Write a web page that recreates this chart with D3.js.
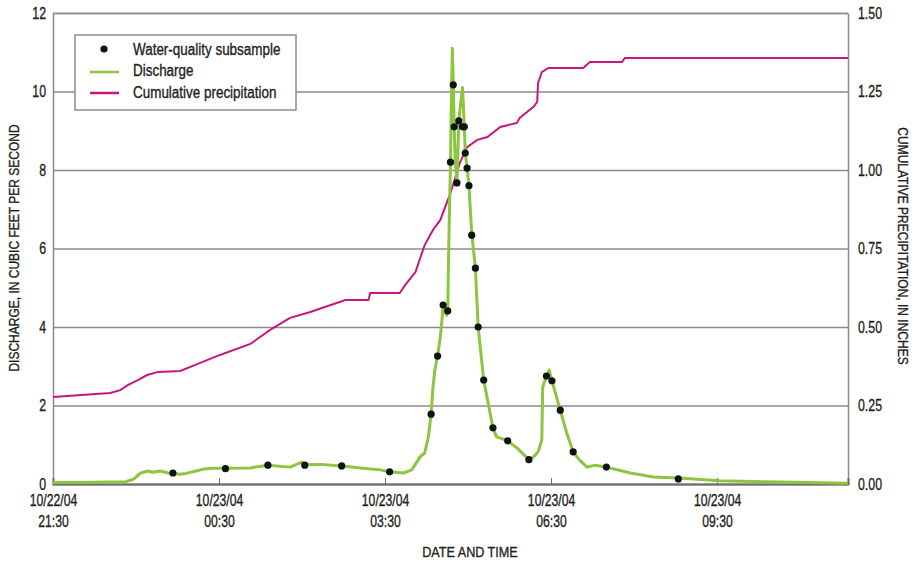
<!DOCTYPE html>
<html>
<head>
<meta charset="utf-8">
<script src="https://cdn.jsdelivr.net/npm/d3@7"></script>
<style>
  html, body { margin: 0; padding: 0; background: #fff; }
  svg { display: block; }
  text { font-family: "Liberation Sans", Arial, sans-serif; fill: #231f20; stroke: #231f20; stroke-width: 0.35px; }
</style>
</head>
<body>
<svg id="chart" width="917" height="565"></svg>
<script>
// ---------------- DATA ----------------
const xTickTimes = ["10/22/04 21:30", "10/23/04 00:30", "10/23/04 03:30", "10/23/04 06:30", "10/23/04 09:30"];
const xTickLabelsDate = ["10/22/04", "10/23/04", "10/23/04", "10/23/04", "10/23/04"];
const xTickLabelsTime = ["21:30", "00:30", "03:30", "06:30", "09:30"];
const timeDomain = ["10/22/04 21:30", "10/23/04 11:52"];
const dischargeTicks = [0, 2, 4, 6, 8, 10, 12];
const precipTicks = [0, 0.25, 0.5, 0.75, 1.0, 1.25, 1.5];

const dischargeTime = [
  "10/22/04 21:30","10/22/04 22:00","10/22/04 22:30","10/22/04 22:49","10/22/04 22:57","10/22/04 23:05",
  "10/22/04 23:13","10/22/04 23:18","10/22/04 23:26","10/22/04 23:35","10/22/04 23:40","10/22/04 23:48",
  "10/22/04 23:54","10/23/04 00:05","10/23/04 00:13","10/23/04 00:24","10/23/04 00:37","10/23/04 01:04",
  "10/23/04 01:23","10/23/04 01:47","10/23/04 02:00","10/23/04 02:03","10/23/04 02:20","10/23/04 02:43",
  "10/23/04 03:06","10/23/04 03:25","10/23/04 03:35","10/23/04 03:50","10/23/04 03:59","10/23/04 04:08",
  "10/23/04 04:13","10/23/04 04:17","10/23/04 04:20","10/23/04 04:22","10/23/04 04:24","10/23/04 04:27",
  "10/23/04 04:30","10/23/04 04:32","10/23/04 04:33","10/23/04 04:37","10/23/04 04:38","10/23/04 04:39",
  "10/23/04 04:41","10/23/04 04:42","10/23/04 04:43","10/23/04 04:44","10/23/04 04:45","10/23/04 04:46",
  "10/23/04 04:48","10/23/04 04:50","10/23/04 04:52","10/23/04 04:54","10/23/04 04:56","10/23/04 04:57",
  "10/23/04 04:59","10/23/04 05:01","10/23/04 05:04","10/23/04 05:08","10/23/04 05:11","10/23/04 05:17",
  "10/23/04 05:27","10/23/04 05:31","10/23/04 05:35","10/23/04 05:43","10/23/04 05:53","10/23/04 06:06",
  "10/23/04 06:11","10/23/04 06:16","10/23/04 06:20","10/23/04 06:21","10/23/04 06:25","10/23/04 06:28",
  "10/23/04 06:31","10/23/04 06:40","10/23/04 06:47","10/23/04 06:54","10/23/04 07:01","10/23/04 07:09",
  "10/23/04 07:18","10/23/04 07:30","10/23/04 07:56","10/23/04 08:21","10/23/04 08:48","10/23/04 09:33",
  "10/23/04 10:38","10/23/04 11:52"
];
const dischargeValue = [
  0.04, 0.04, 0.05, 0.06, 0.12, 0.28,
  0.33, 0.30, 0.33, 0.28, 0.27, 0.25,
  0.27, 0.33, 0.38, 0.40, 0.40, 0.41,
  0.48, 0.43, 0.56, 0.49, 0.50, 0.46,
  0.40, 0.36, 0.31, 0.28, 0.36, 0.69,
  0.79, 1.20, 1.78, 2.47, 2.90, 3.26,
  3.75, 4.25, 4.56, 4.30, 4.41, 5.90,
  8.20, 9.80, 11.10, 10.17, 9.10, 8.30,
  7.67, 9.25, 9.70, 10.10, 9.10, 8.43,
  8.05, 7.60, 6.40, 5.50, 4.00, 2.65,
  1.43, 1.20, 1.17, 1.10, 0.92, 0.62,
  0.69, 0.82, 1.12, 2.47, 2.75, 2.90,
  2.63, 1.88, 1.30, 0.82, 0.61, 0.43,
  0.48, 0.43, 0.28, 0.18, 0.15, 0.08,
  0.05, 0.02
];

const sampleTime = [
  "10/22/04 23:40","10/23/04 00:37","10/23/04 01:23","10/23/04 02:03","10/23/04 02:43","10/23/04 03:35",
  "10/23/04 04:20","10/23/04 04:27","10/23/04 04:33","10/23/04 04:38","10/23/04 04:41","10/23/04 04:44",
  "10/23/04 04:45","10/23/04 04:48","10/23/04 04:50","10/23/04 04:54","10/23/04 04:56","10/23/04 04:57",
  "10/23/04 04:59","10/23/04 05:01","10/23/04 05:04","10/23/04 05:08","10/23/04 05:11","10/23/04 05:17",
  "10/23/04 05:27","10/23/04 05:43","10/23/04 06:06","10/23/04 06:25","10/23/04 06:31","10/23/04 06:40",
  "10/23/04 06:54","10/23/04 07:30","10/23/04 08:48"
];
const sampleValue = [
  0.28, 0.39, 0.48, 0.48, 0.46, 0.31,
  1.78, 3.26, 4.56, 4.41, 8.20, 10.17,
  9.10, 7.67, 9.25, 9.10, 9.10, 8.43,
  8.05, 7.60, 6.34, 5.50, 4.00, 2.65,
  1.43, 1.10, 0.62, 2.75, 2.63, 1.88,
  0.82, 0.43, 0.13
];

const precipTime = [
  "10/22/04 21:30","10/22/04 22:32","10/22/04 22:43","10/22/04 22:51","10/22/04 23:02","10/22/04 23:12",
  "10/22/04 23:24","10/22/04 23:48","10/23/04 00:09","10/23/04 00:31","10/23/04 01:04","10/23/04 01:25",
  "10/23/04 01:47","10/23/04 02:09","10/23/04 02:47","10/23/04 03:12","10/23/04 03:14","10/23/04 03:46",
  "10/23/04 03:52","10/23/04 04:03","10/23/04 04:13","10/23/04 04:22","10/23/04 04:30","10/23/04 04:41",
  "10/23/04 04:51","10/23/04 04:59","10/23/04 05:10","10/23/04 05:21","10/23/04 05:35","10/23/04 05:53",
  "10/23/04 05:56","10/23/04 06:11","10/23/04 06:15","10/23/04 06:16","10/23/04 06:20","10/23/04 06:27",
  "10/23/04 07:05","10/23/04 07:12","10/23/04 07:47","10/23/04 07:50","10/23/04 11:52"
];
const precipValue = [
  0.277, 0.290, 0.299, 0.315, 0.331, 0.347,
  0.357, 0.360, 0.385, 0.411, 0.446, 0.490,
  0.529, 0.548, 0.586, 0.586, 0.608, 0.608,
  0.634, 0.675, 0.761, 0.809, 0.841, 0.927,
  1.022, 1.073, 1.096, 1.105, 1.137, 1.150,
  1.166, 1.201, 1.217, 1.277, 1.312, 1.325,
  1.325, 1.344, 1.344, 1.357, 1.357
];

// ---------------- CHART ----------------
const parse = d3.timeParse("%m/%d/%y %H:%M");
const svg = d3.select("#chart");
const L = 53, R = 848, T = 13, B = 484;
const green = "#8cc63f", magenta = "#c8177f", grid = "#8c8c8c";
const FS = "16px";

// condense text horizontally (reference uses a condensed typeface)
function condense(sel, f) {
  sel.each(function() {
    const w = this.getComputedTextLength();
    d3.select(this).attr("textLength", w * f).attr("lengthAdjust", "spacingAndGlyphs");
  });
}

const x = d3.scaleTime().domain(timeDomain.map(parse)).range([L, R]);
const yL = d3.scaleLinear().domain([0, 12]).range([B, T]);
const yR = d3.scaleLinear().domain([0, 1.5]).range([B, T]);

// left axis with gridlines
const gL = svg.append("g").attr("transform", `translate(${L},0)`)
  .call(d3.axisLeft(yL).tickValues(dischargeTicks).tickSize(-(R - L)).tickPadding(7).tickFormat(d3.format("d")));
gL.select(".domain").attr("stroke", grid).attr("stroke-width", 1.5);
gL.selectAll(".tick line").attr("stroke", grid).attr("stroke-width", 1.3);
gL.selectAll(".tick text").style("font-size", FS).attr("fill", "#231f20").call(condense, 0.77);

// right axis
const gR = svg.append("g").attr("transform", `translate(${R},0)`)
  .call(d3.axisRight(yR).tickValues(precipTicks).tickSize(0).tickPadding(10).tickFormat(d3.format(".2f")));
gR.select(".domain").attr("stroke", grid).attr("stroke-width", 1.5);
gR.selectAll(".tick text").style("font-size", FS).attr("fill", "#231f20").call(condense, 0.77);

// bottom axis
const gB = svg.append("g").attr("transform", `translate(0,${B})`)
  .call(d3.axisBottom(x).tickValues(xTickTimes.map(parse)).tickSize(-6).tickPadding(8).tickFormat(() => ""));
gB.select(".domain").attr("stroke", "#6d6d6d").attr("stroke-width", 2);
gB.selectAll(".tick line").attr("stroke", "#6d6d6d").attr("stroke-width", 1);
gB.selectAll(".tick").each(function(d, i) {
  const g = d3.select(this);
  g.select("text").remove();
  g.append("text").attr("y", 22).attr("text-anchor", "middle").style("font-size", FS)
    .text(xTickLabelsDate[i]).call(condense, 0.76);
  g.append("text").attr("y", 43).attr("text-anchor", "middle").style("font-size", FS)
    .text(xTickLabelsTime[i]).call(condense, 0.76);
});

// axis titles
svg.append("text").attr("x", 470).attr("y", 557).attr("text-anchor", "middle")
  .style("font-size", "15px").text("DATE AND TIME").call(condense, 0.84);
svg.append("text").attr("transform", "translate(19,248) rotate(-90)").attr("text-anchor", "middle")
  .style("font-size", "15px").text("DISCHARGE, IN CUBIC FEET PER SECOND").call(condense, 0.8);
svg.append("text").attr("transform", "translate(898,246) rotate(90)").attr("text-anchor", "middle")
  .style("font-size", "15px").text("CUMULATIVE PRECIPITATION, IN INCHES").call(condense, 0.8);

// series
const precip = precipTime.map((t, i) => ({ t: parse(t), v: precipValue[i] }));
const discharge = dischargeTime.map((t, i) => ({ t: parse(t), v: dischargeValue[i] }));
const samples = sampleTime.map((t, i) => ({ t: parse(t), v: sampleValue[i] }));

svg.append("path").datum(precip)
  .attr("fill", "none").attr("stroke", magenta).attr("stroke-width", 2)
  .attr("d", d3.line().x(d => x(d.t)).y(d => yR(d.v)));

svg.append("path").datum(discharge)
  .attr("fill", "none").attr("stroke", green).attr("stroke-width", 3).attr("stroke-linejoin", "round")
  .attr("d", d3.line().x(d => x(d.t)).y(d => yL(d.v)));

svg.append("g").selectAll("circle").data(samples).join("circle")
  .attr("cx", d => x(d.t)).attr("cy", d => yL(d.v)).attr("r", 3.6).attr("fill", "#111");

// legend
const lg = svg.append("g");
lg.append("rect").attr("x", 75).attr("y", 35).attr("width", 221).attr("height", 75)
  .attr("fill", "#fff").attr("stroke", grid).attr("stroke-width", 1.5);
lg.append("circle").attr("cx", 104).attr("cy", 49).attr("r", 3.6).attr("fill", "#111");
lg.append("line").attr("x1", 90).attr("x2", 119).attr("y1", 72).attr("y2", 72).attr("stroke", green).attr("stroke-width", 2.5);
lg.append("line").attr("x1", 90).attr("x2", 119).attr("y1", 93).attr("y2", 93).attr("stroke", magenta).attr("stroke-width", 2.5);
const legendLabels = ["Water-quality subsample", "Discharge", "Cumulative precipitation"];
lg.selectAll("text.lab").data(legendLabels).join("text").attr("class", "lab")
  .attr("x", 133).attr("y", (d, i) => 54.5 + i * 21.5).style("font-size", FS).text(d => d)
  .call(condense, 0.84);
</script>
</body>
</html>
